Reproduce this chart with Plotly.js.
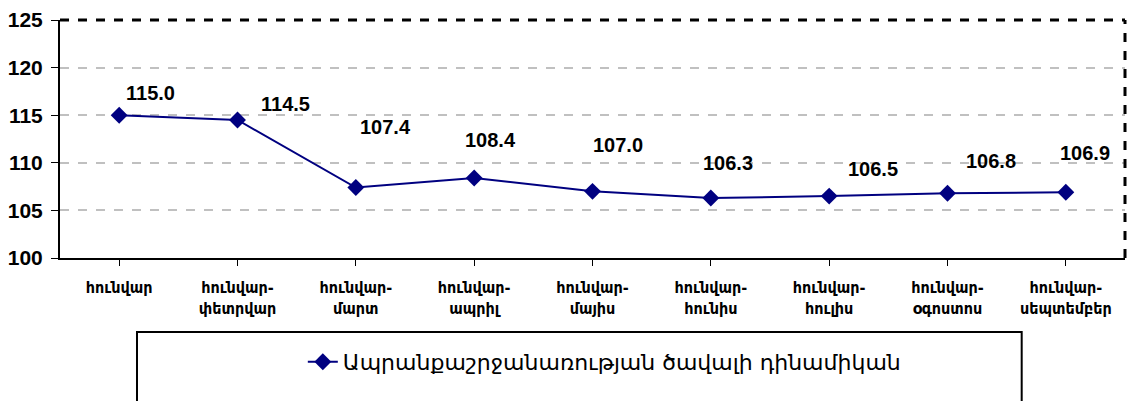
<!DOCTYPE html>
<html><head><meta charset="utf-8">
<script src="https://cdn.plot.ly/plotly-3.0.1.min.js"></script>
<style>body{margin:0;background:#fff}#c{width:1127px;height:401px}</style>
</head><body><div id="c"></div>
<script>
const categories = ["հունվար","հունվար-<br>փետրվար","հունվար-<br>մարտ","հունվար-<br>ապրիլ","հունվար-<br>մայիս","հունվար-<br>հունիս","հունվար-<br>հուլիս","հունվար-<br>օգոստոս","հունվար-<br>սեպտեմբեր"];
const values = [115.0,114.5,107.4,108.4,107.0,106.3,106.5,106.8,106.9];
const seriesName = "Ապրանքաշրջանառության ծավալի դինամիկան";
const yTicks = [100,105,110,115,120,125];
// label offsets (pixels) as placed in the original
const labelDx = [31,48,30,16,25,17,44,43,19];
const labelDy = [-22,-16,-61,-38,-46,-35,-27,-32,-39];

const xIdx = categories.map((c,i)=>i);
const trace = {
  x: xIdx, y: values, type:'scatter', mode:'lines+markers', name: seriesName,
  line:{color:'#000080', width:2},
  marker:{symbol:'diamond', size:13, color:'#000080'}
};
const annotations = values.map((v,i)=>({
  x:i, y:v, xref:'x', yref:'y', text:v.toFixed(1), showarrow:false,
  xshift:labelDx[i], yshift:-labelDy[i],
  font:{family:'Arial, Liberation Sans, sans-serif', size:20, color:'#000', weight:700}
}));
const layout = {
  width:1127, height:401,
  margin:{l:60, r:2, t:20, b:143},
  paper_bgcolor:'#fff', plot_bgcolor:'#fff',
  showlegend:true,
  legend:{orientation:'h', x:0.228, xanchor:'left', y:-0.437, yanchor:'middle',
    font:{family:'DejaVu Sans, sans-serif', size:22, color:'#000'}, bgcolor:'rgba(0,0,0,0)'},
  xaxis:{range:[-0.5,8.5], tickvals:xIdx, ticktext:categories, tickmode:'array',
    showgrid:false, zeroline:false, showline:true, linecolor:'#000', linewidth:2,
    ticks:'outside', tickson:'boundaries', ticklen:6, tickcolor:'#000', tickwidth:1,
    ticklabelstandoff:8,
    tickfont:{family:'DejaVu Sans Condensed, DejaVu Sans, sans-serif', size:16, color:'#000', weight:700}},
  yaxis:{range:[100,125], tickvals:yTicks, tickmode:'array',
    showgrid:true, gridcolor:'#c0c0c0', gridwidth:2, griddash:'dash',
    zeroline:false, showline:true, linecolor:'#000', linewidth:2,
    ticks:'outside', ticklen:7, tickcolor:'#000', ticklabelstandoff:4,
    tickfont:{family:'Arial, Liberation Sans, sans-serif', size:21, color:'#000', weight:700}},
  shapes:[
    {type:'line', xref:'paper', yref:'paper', x0:0, x1:1, y0:1, y1:1, line:{color:'#000', width:3, dash:'dash'}},
    {type:'line', xref:'paper', yref:'paper', x0:1, x1:1, y0:0, y1:1, line:{color:'#000', width:3, dash:'dash'}},
    {type:'rect', xref:'paper', yref:'paper', x0:0.0723, x1:0.903, y0:-0.311, y1:-0.7, line:{color:'#000', width:2}}
  ],
  annotations: annotations
};
Plotly.newPlot('c',[trace],layout,{displayModeBar:false, staticPlot:true});
</script></body></html>
